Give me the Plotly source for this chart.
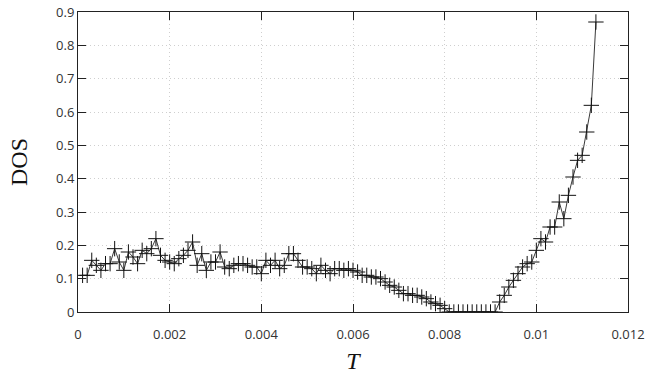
import plotly.graph_objects as go

# Temperature grid (step 0.0001)
T = [round(0.0001 * k, 4) for k in range(1, 114)]

DOS = [
    # k = 1..19
    0.11, 0.11, 0.155, 0.14, 0.125, 0.145, 0.145, 0.19, 0.15, 0.125,
    0.18, 0.165, 0.145, 0.185, 0.175, 0.19, 0.22, 0.17, 0.155,
    # k = 20..38
    0.15, 0.145, 0.16, 0.17, 0.185, 0.21, 0.14, 0.175, 0.125, 0.15,
    0.15, 0.18, 0.135, 0.13, 0.14, 0.145, 0.145, 0.14, 0.135,
    # k = 39..58
    0.135, 0.115, 0.155, 0.14, 0.155, 0.13, 0.14, 0.175, 0.175, 0.155,
    0.135, 0.135, 0.13, 0.115, 0.14, 0.125, 0.115, 0.13, 0.13, 0.125,
    # k = 59..80
    0.13, 0.125, 0.12, 0.11, 0.11, 0.105, 0.105, 0.1, 0.09, 0.08,
    0.075, 0.065, 0.055, 0.055, 0.05, 0.05, 0.045, 0.04, 0.03, 0.025,
    0.02, 0.01,
    # k = 81..91
    0, 0, 0, 0, 0, 0, 0, 0, 0, 0, 0,
    # k = 92..113
    0.03, 0.05, 0.075, 0.095, 0.115, 0.135, 0.145, 0.15, 0.185, 0.22,
    0.21, 0.255, 0.255, 0.33, 0.28, 0.35, 0.405, 0.455, 0.47, 0.54,
    0.62, 0.87,
]

x_ticks = [0, 0.002, 0.004, 0.006, 0.008, 0.010, 0.012]
x_ticklabels = ["0", "0.002", "0.004", "0.006", "0.008", "0.01", "0.012"]
y_ticks = [0, 0.1, 0.2, 0.3, 0.4, 0.5, 0.6, 0.7, 0.8, 0.9]
y_ticklabels = ["0", "0.1", "0.2", "0.3", "0.4", "0.5", "0.6", "0.7", "0.8", "0.9"]

fig = go.Figure()
fig.add_trace(go.Scatter(
    x=T, y=DOS, mode="lines+markers",
    line=dict(color="#3a3a3a", width=1),
    marker=dict(symbol="cross-thin", size=11, line=dict(color="#111111", width=1)),
    showlegend=False,
))

axis_common = dict(
    showline=True, linecolor="#222222", linewidth=1, mirror="ticks",
    ticks="inside", ticklen=8, tickcolor="#222222", tickwidth=1,
    showgrid=True, gridcolor="#cfcfcf", griddash="1px,3px", gridwidth=1,
    zeroline=False, automargin=False,
    tickfont=dict(family="Open Sans, Noto Sans, sans-serif", size=13, color="#333333"),
)

fig.update_xaxes(
    range=[0, 0.012], tickvals=x_ticks, ticktext=x_ticklabels,
    ticklabelstandoff=10,
    title=dict(text="<i>T</i>", font=dict(family="Liberation Serif, serif", size=24, color="#111111"), standoff=10),
    **axis_common,
)
fig.update_yaxes(
    range=[0, 0.9], tickvals=y_ticks, ticktext=y_ticklabels,
    title=dict(text="DOS", font=dict(family="Liberation Serif, serif", size=24, color="#111111"), standoff=21),
    **axis_common,
)

fig.update_layout(
    width=647, height=376,
    margin=dict(l=78, r=19, t=12, b=64),
    plot_bgcolor="white", paper_bgcolor="white",
)

# remove the default 8px page margin so the figure fills the window exactly
fig.write_html(
    "out.html",
    config={"displayModeBar": False},
    post_script="document.body.style.margin='0';",
)
